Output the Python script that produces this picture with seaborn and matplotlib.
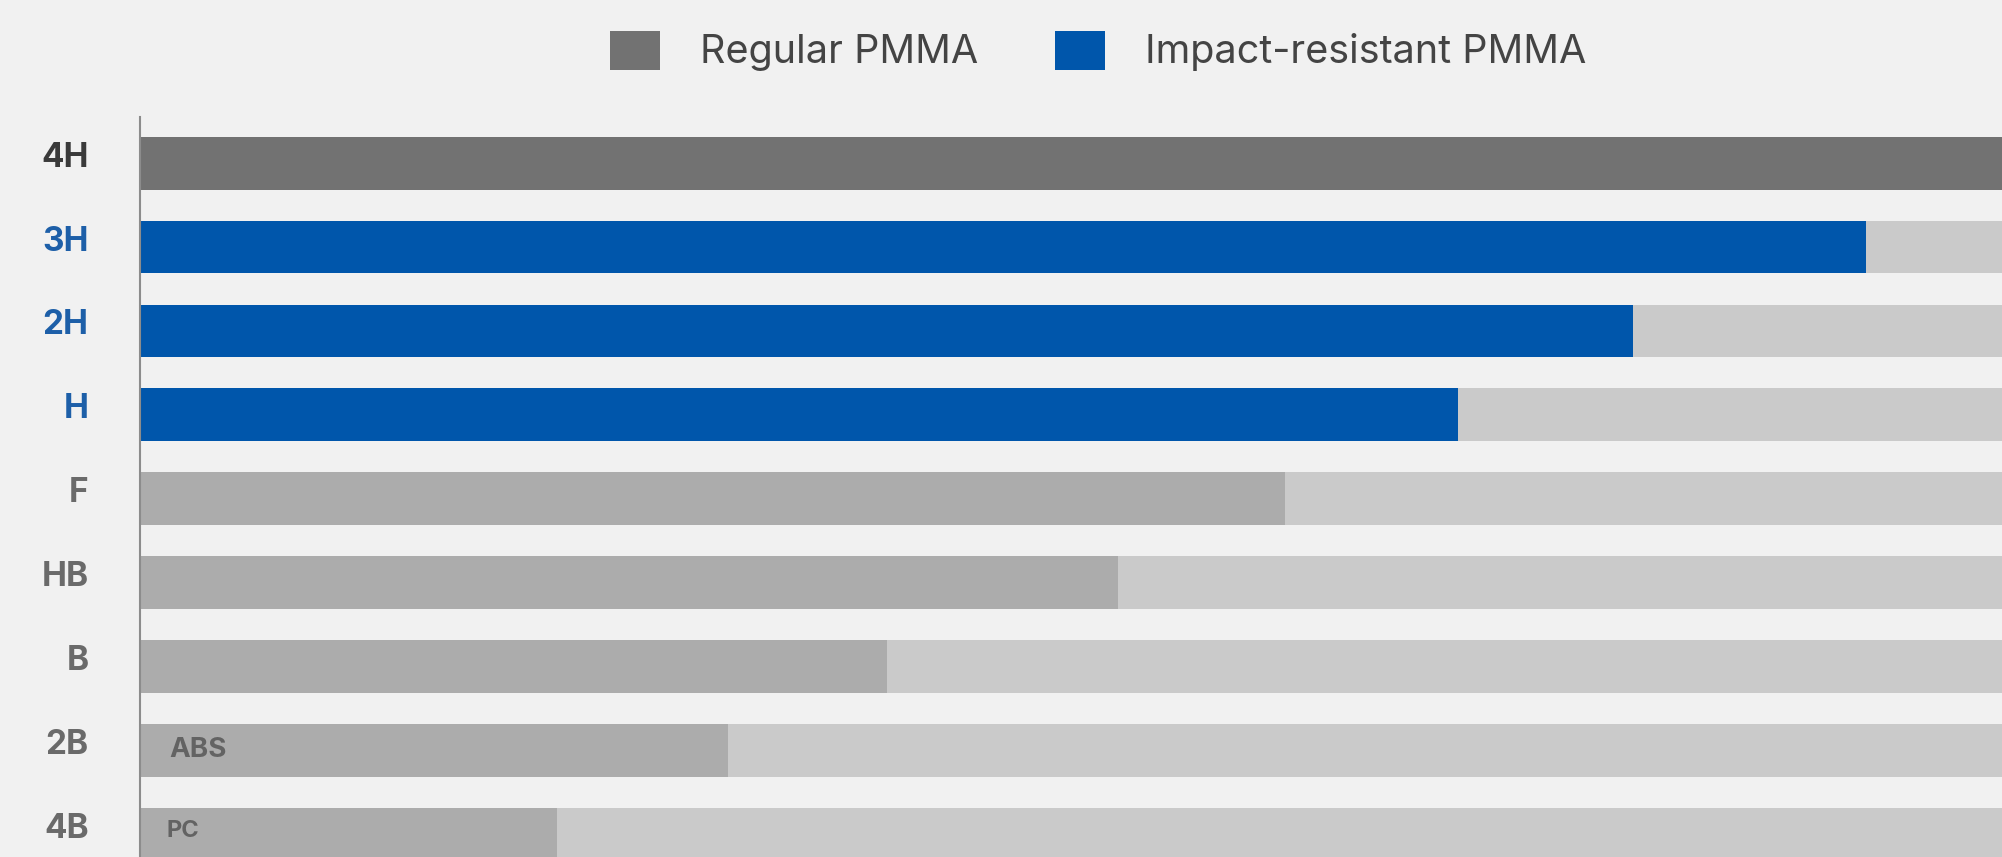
import matplotlib
matplotlib.use("Agg")
import matplotlib.pyplot as plt
import matplotlib.transforms as mtransforms
import seaborn as sns
from matplotlib.patches import Patch

# --- Data ---
grades = ["4H", "3H", "2H", "H", "F", "HB", "B", "2B", "4B"]
hardness = [100, 92.7, 80.2, 70.8, 61.5, 52.5, 40.1, 31.6, 22.4]
scale_max = [100] * len(grades)
materials = ["Regular PMMA", "Impact-resistant PMMA", "", "", "", "", "", "ABS", "PC"]
legend_labels = ["Regular PMMA", "Impact-resistant PMMA"]

# --- Colours ---
bg = "#f1f1f1"
dark_grey = "#727272"
blue = "#0056ab"
mid_grey = "#acacac"
track_grey = "#cacaca"
bar_colors = {"4H": dark_grey, "3H": blue, "2H": blue, "H": blue,
              "F": mid_grey, "HB": mid_grey, "B": mid_grey, "2B": mid_grey, "4B": mid_grey}
tick_colors = {"4H": "#3a3a3a", "3H": "#1d5fa8", "2H": "#1d5fa8", "H": "#1d5fa8"}

sns.set_style("white")
plt.rcParams["font.family"] = ["Inter", "DejaVu Sans"]

fig = plt.figure(figsize=(20.02, 8.57), dpi=100, facecolor=bg)
ax = fig.add_axes([140 / 2002, 0, 1 - 140 / 2002, 1 - 117 / 857])
ax.set_facecolor(bg)

# background tracks
sns.barplot(x=scale_max, y=grades, hue=grades, palette={g: track_grey for g in grades},
            legend=False, orient="h", width=0.63, ax=ax, saturation=1)
# hardness bars
sns.barplot(x=hardness, y=grades, hue=grades, palette=bar_colors,
            legend=False, orient="h", width=0.63, ax=ax, saturation=1)

for p in ax.patches:
    p.set_linewidth(0)

ax.set_xlim(0, 100)
ax.set_ylim(8.27, -0.55)
ax.set_xlabel("")
ax.set_ylabel("")
ax.set_xticks([])

for s in ["top", "right", "bottom"]:
    ax.spines[s].set_visible(False)
ax.spines["left"].set_color("#8c8c8c")
ax.spines["left"].set_linewidth(1.5)

ax.tick_params(axis="y", length=0, pad=37)
shift_up = mtransforms.ScaledTranslation(0, 9 / 100, fig.dpi_scale_trans)
for lbl in ax.get_yticklabels():
    lbl.set_fontsize(24)
    lbl.set_fontweight("bold")
    lbl.set_color(tick_colors.get(lbl.get_text(), "#6a6a6a"))
    lbl.set_transform(lbl.get_transform() + shift_up)

# material notes inside the bars
ax.text(1.55, grades.index("2B"), materials[7], va="center", ha="left",
        fontsize=20, fontweight="bold", color="#636363")
ax.text(1.45, grades.index("4B") - 0.04, materials[8], va="center", ha="left",
        fontsize=17, fontweight="bold", color="#636363")

handles = [Patch(facecolor=dark_grey, edgecolor="none"),
           Patch(facecolor=blue, edgecolor="none")]
fig.legend(handles, legend_labels, loc="center", ncol=2,
           bbox_to_anchor=(1098 / 2002, 1 - 51 / 857), frameon=False,
           fontsize=28.5, handlelength=1.27, handleheight=1.14,
           handletextpad=1.0, columnspacing=1.95, labelcolor="#444444")

fig.savefig("out.png", dpi=100, facecolor=bg)
